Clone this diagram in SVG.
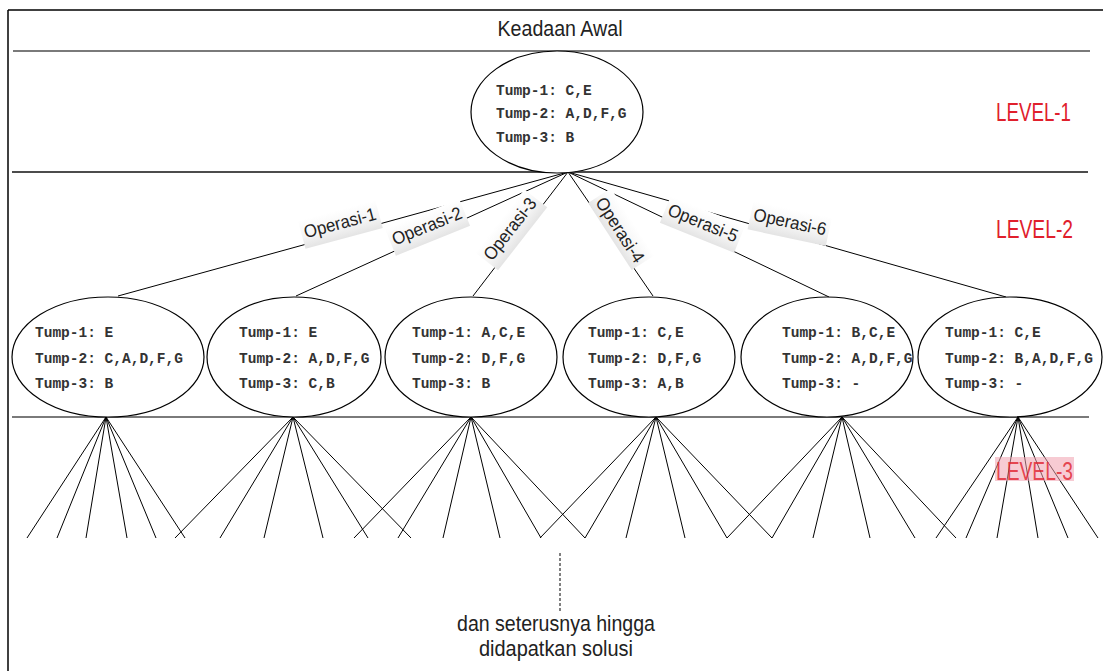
<svg xmlns="http://www.w3.org/2000/svg" width="1103" height="671" viewBox="0 0 1103 671">
<defs>
<linearGradient id="lbl" x1="0" y1="0" x2="0" y2="1">
<stop offset="0" stop-color="#ffffff"/>
<stop offset="0.6" stop-color="#f4f4f4"/>
<stop offset="1" stop-color="#e4e4e4"/>
</linearGradient>
<style>
.frame{stroke:#000;stroke-width:1.5;fill:none}
.sep{stroke:#7a7a7a;stroke-width:2;fill:none}
.sepk{stroke:#111;stroke-width:1.3;fill:none}
.node{fill:#fff;stroke:#000;stroke-width:1.2}
.conn{stroke:#000;stroke-width:1;fill:none}
.nt{font-family:"Liberation Mono","Courier New",monospace;font-size:14.5px;fill:#333;font-weight:bold}
.op{font-family:"Liberation Sans",Arial,sans-serif;font-size:18px;fill:#222;text-anchor:middle}
.lv{font-family:"Liberation Sans",Arial,sans-serif;font-size:26px;fill:#e0202c}
.title{font-family:"Liberation Sans",Arial,sans-serif;font-size:22px;fill:#222;text-anchor:middle}
</style>
</defs>
<rect width="1103" height="671" fill="#fff"/>
<g id="frame">
<line class="frame" x1="8" y1="10" x2="1103" y2="10"/>
<line class="frame" x1="8" y1="10" x2="8" y2="671"/>
<line class="sep" x1="13" y1="51" x2="1090" y2="51"/>
<line class="sepk" x1="12" y1="172" x2="1088" y2="172"/>
<line class="sep" x1="12" y1="417" x2="1089" y2="417"/>
</g>
<text id="title" class="title" x="560" y="36" textLength="125" lengthAdjust="spacingAndGlyphs">Keadaan Awal</text>
<g id="connectors">
<line class="conn" x1="568" y1="172" x2="118" y2="296"/>
<line class="conn" x1="568" y1="172" x2="296" y2="296"/>
<line class="conn" x1="568" y1="172" x2="473" y2="296"/>
<line class="conn" x1="568" y1="172" x2="653" y2="296"/>
<line class="conn" x1="568" y1="172" x2="829" y2="297"/>
<line class="conn" x1="568" y1="172" x2="1006" y2="297"/>
<g id="fan1">
<line class="conn" x1="106" y1="417" x2="27" y2="538"/>
<line class="conn" x1="106" y1="417" x2="57" y2="538"/>
<line class="conn" x1="106" y1="417" x2="86" y2="538"/>
<line class="conn" x1="106" y1="417" x2="127" y2="538"/>
<line class="conn" x1="106" y1="417" x2="156" y2="538"/>
<line class="conn" x1="106" y1="417" x2="185" y2="538"/>
</g>
<g id="fan2">
<line class="conn" x1="293" y1="417" x2="175" y2="538"/>
<line class="conn" x1="293" y1="417" x2="220" y2="538"/>
<line class="conn" x1="293" y1="417" x2="264" y2="538"/>
<line class="conn" x1="293" y1="417" x2="323" y2="538"/>
<line class="conn" x1="293" y1="417" x2="368" y2="538"/>
<line class="conn" x1="293" y1="417" x2="411" y2="538"/>
</g>
<g id="fan3">
<line class="conn" x1="471" y1="417" x2="354" y2="538"/>
<line class="conn" x1="471" y1="417" x2="398" y2="538"/>
<line class="conn" x1="471" y1="417" x2="443" y2="538"/>
<line class="conn" x1="471" y1="417" x2="500" y2="538"/>
<line class="conn" x1="471" y1="417" x2="541" y2="538"/>
<line class="conn" x1="471" y1="417" x2="585" y2="538"/>
</g>
<g id="fan4">
<line class="conn" x1="656" y1="417" x2="540" y2="538"/>
<line class="conn" x1="656" y1="417" x2="585" y2="538"/>
<line class="conn" x1="656" y1="417" x2="626" y2="538"/>
<line class="conn" x1="656" y1="417" x2="685" y2="538"/>
<line class="conn" x1="656" y1="417" x2="727" y2="538"/>
<line class="conn" x1="656" y1="417" x2="772" y2="538"/>
</g>
<g id="fan5">
<line class="conn" x1="842" y1="417" x2="727" y2="538"/>
<line class="conn" x1="842" y1="417" x2="772" y2="538"/>
<line class="conn" x1="842" y1="417" x2="813" y2="538"/>
<line class="conn" x1="842" y1="417" x2="870" y2="538"/>
<line class="conn" x1="842" y1="417" x2="915" y2="538"/>
<line class="conn" x1="842" y1="417" x2="956" y2="538"/>
</g>
<g id="fan6">
<line class="conn" x1="1018" y1="417" x2="936" y2="538"/>
<line class="conn" x1="1018" y1="417" x2="966" y2="538"/>
<line class="conn" x1="1018" y1="417" x2="997" y2="538"/>
<line class="conn" x1="1018" y1="417" x2="1038" y2="538"/>
<line class="conn" x1="1018" y1="417" x2="1068" y2="538"/>
<line class="conn" x1="1018" y1="417" x2="1098" y2="538"/>
</g>
<line class="conn" x1="560" y1="553" x2="560" y2="612" stroke="#777" stroke-dasharray="3,2"/>
</g>
<g id="labels">
<g transform="translate(340,223) rotate(-15)"><rect x="-40" y="-13" width="80" height="29" fill="url(#lbl)"/><text class="op" x="0" y="6" textLength="74" lengthAdjust="spacingAndGlyphs">Operasi-1</text></g>
<g transform="translate(427,226) rotate(-22)"><rect x="-40" y="-13" width="80" height="29" fill="url(#lbl)"/><text class="op" x="0" y="6" textLength="74" lengthAdjust="spacingAndGlyphs">Operasi-2</text></g>
<g transform="translate(510,229) rotate(-52)"><rect x="-40" y="-13" width="80" height="29" fill="url(#lbl)"/><text class="op" x="0" y="6" textLength="74" lengthAdjust="spacingAndGlyphs">Operasi-3</text></g>
<g transform="translate(620,230) rotate(57)"><rect x="-40" y="-15" width="80" height="27" fill="url(#lbl)"/><text class="op" x="0" y="6" textLength="74" lengthAdjust="spacingAndGlyphs">Operasi-4</text></g>
<g transform="translate(703,223) rotate(22)"><rect x="-40" y="-13" width="80" height="29" fill="url(#lbl)"/><text class="op" x="0" y="6" textLength="74" lengthAdjust="spacingAndGlyphs">Operasi-5</text></g>
<g transform="translate(790,222) rotate(12)"><rect x="-40" y="-13" width="80" height="29" fill="url(#lbl)"/><text class="op" x="0" y="6" textLength="74" lengthAdjust="spacingAndGlyphs">Operasi-6</text></g>
</g>
<g id="n0">
<ellipse class="node" cx="557" cy="112" rx="86" ry="61"/>
<text class="nt" x="496" y="95">Tump-1: C,E</text>
<text class="nt" x="496" y="118">Tump-2: A,D,F,G</text>
<text class="nt" x="496" y="142">Tump-3: B</text>
</g>
<g id="n1">
<ellipse class="node" cx="108" cy="357" rx="96" ry="60"/>
<text class="nt" x="35" y="337">Tump-1: E</text>
<text class="nt" x="35" y="363">Tump-2: C,A,D,F,G</text>
<text class="nt" x="35" y="388">Tump-3: B</text>
</g>
<g id="n2">
<ellipse class="node" cx="294" cy="357" rx="87" ry="60"/>
<text class="nt" x="239" y="337">Tump-1: E</text>
<text class="nt" x="239" y="363">Tump-2: A,D,F,G</text>
<text class="nt" x="239" y="388">Tump-3: C,B</text>
</g>
<g id="n3">
<ellipse class="node" cx="471" cy="357" rx="86" ry="60"/>
<text class="nt" x="412" y="337">Tump-1: A,C,E</text>
<text class="nt" x="412" y="363">Tump-2: D,F,G</text>
<text class="nt" x="412" y="388">Tump-3: B</text>
</g>
<g id="n4">
<ellipse class="node" cx="649" cy="357" rx="86" ry="60"/>
<text class="nt" x="588" y="337">Tump-1: C,E</text>
<text class="nt" x="588" y="363">Tump-2: D,F,G</text>
<text class="nt" x="588" y="388">Tump-3: A,B</text>
</g>
<g id="n5">
<ellipse class="node" cx="827" cy="357" rx="86" ry="60"/>
<text class="nt" x="782" y="337">Tump-1: B,C,E</text>
<text class="nt" x="782" y="363">Tump-2: A,D,F,G</text>
<text class="nt" x="782" y="388">Tump-3: -</text>
</g>
<g id="n6">
<ellipse class="node" cx="1010" cy="357" rx="92" ry="60"/>
<text class="nt" x="945" y="337">Tump-1: C,E</text>
<text class="nt" x="945" y="363">Tump-2: B,A,D,F,G</text>
<text class="nt" x="945" y="388">Tump-3: -</text>
</g>
<g id="levels">
<text class="lv" x="996" y="121" textLength="75" lengthAdjust="spacingAndGlyphs">LEVEL-1</text>
<text class="lv" x="996" y="238" textLength="77" lengthAdjust="spacingAndGlyphs">LEVEL-2</text>
<rect x="995" y="457" width="79" height="24" fill="#f0a0ae" opacity="0.55"/>
<text class="lv" x="996" y="480" textLength="77" lengthAdjust="spacingAndGlyphs" fill-opacity="0.8">LEVEL-3</text>
</g>
<g id="footer">
<text class="title" x="556" y="631" textLength="198" lengthAdjust="spacingAndGlyphs">dan seterusnya hingga</text>
<text class="title" x="556" y="656" textLength="154" lengthAdjust="spacingAndGlyphs">didapatkan solusi</text>
</g>
</svg>
